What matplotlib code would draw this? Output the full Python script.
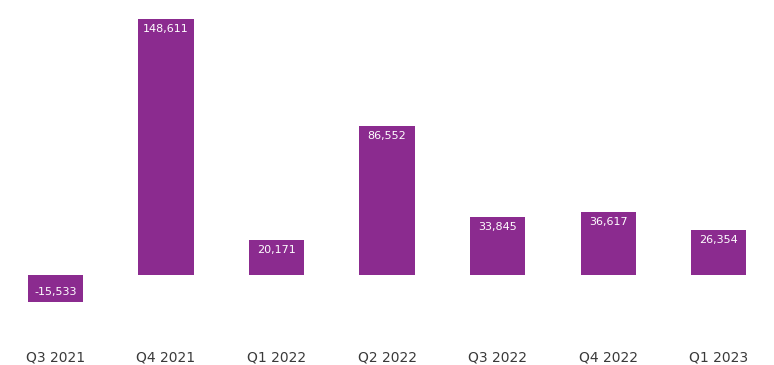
import matplotlib
matplotlib.use("Agg")
import matplotlib.pyplot as plt

# --- data ---
quarters = ["Q3 2021", "Q4 2021", "Q1 2022", "Q2 2022", "Q3 2022", "Q4 2022", "Q1 2023"]
values = [-15533, 148611, 20171, 86552, 33845, 36617, 26354]

BAR_COLOR = "#8b2b8f"
TEXT_COLOR = "#3a3a3a"

fig = plt.figure(figsize=(7.74, 3.65), dpi=100)
ax = fig.add_axes([0, 55 / 365, 1, 310 / 365])

x = list(range(len(quarters)))
bars = ax.bar(x, values, width=0.5, color=BAR_COLOR, edgecolor="none")

ax.set_xlim(-0.5, 6.5)
ax.set_ylim(-20350, 159900)

# value labels just inside the outer end of each bar
for b, v in zip(bars, values):
    cx = b.get_x() + b.get_width() / 2
    off = -10 if v >= 0 else 10
    ax.annotate(f"{v:,}", (cx, v), xytext=(0, off), textcoords="offset pixels",
                ha="center", va="center", color="white", fontsize=8,
                family="DejaVu Sans")

ax.set_xticks(x)
ax.set_xticklabels(quarters, fontsize=10, color=TEXT_COLOR, family="DejaVu Sans")
ax.tick_params(axis="x", length=0, pad=29)
ax.set_yticks([])
for s in ax.spines.values():
    s.set_visible(False)

fig.savefig("out.png", dpi=100)
